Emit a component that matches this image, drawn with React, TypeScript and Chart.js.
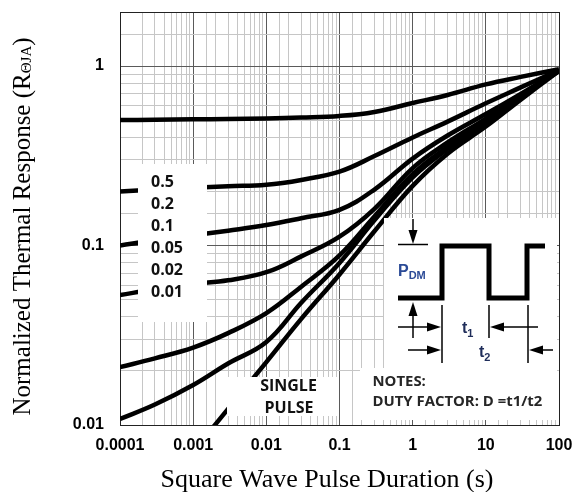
import React, { useEffect, useRef } from 'react';
import { Chart, registerables } from 'chart.js';

Chart.register(...registerables);

// ---- data ----
const durations = [0.0001, 0.0003, 0.001, 0.003, 0.01, 0.03, 0.1, 0.3, 1, 3, 10, 30, 100];
const duty05 = [0.5, 0.502, 0.505, 0.507, 0.51, 0.516, 0.527, 0.555, 0.622, 0.69, 0.79, 0.87, 0.96];
const duty02 = [0.2, 0.205, 0.21, 0.214, 0.218, 0.232, 0.258, 0.315, 0.4, 0.49, 0.62, 0.76, 0.95];
const duty01 = [0.1, 0.107, 0.114, 0.121, 0.13, 0.142, 0.158, 0.205, 0.305, 0.41, 0.54, 0.7, 0.94];
const duty005 = [0.053, 0.057, 0.061, 0.064, 0.071, 0.087, 0.112, 0.16, 0.27, 0.375, 0.51, 0.69, 0.94];
const duty002 = [0.021, 0.0235, 0.027, 0.0325, 0.042, 0.059, 0.088, 0.145, 0.25, 0.355, 0.5, 0.68, 0.94];
const duty001 = [0.0108, 0.013, 0.0167, 0.022, 0.029, 0.048, 0.08, 0.138, 0.24, 0.345, 0.48, 0.67, 0.94];
const singleDurations = [0.0015, 0.003, 0.01, 0.03, 0.1, 0.3, 1, 3, 10, 30, 100];
const singlePulse = [0.0087, 0.0123, 0.0224, 0.039, 0.069, 0.12, 0.215, 0.325, 0.46, 0.65, 0.94];

const dutyLabels = ['0.5', '0.2', '0.1', '0.05', '0.02', '0.01'];
const xTickValues = [0.0001, 0.001, 0.01, 0.1, 1, 10, 100];
const xTickLabels = ['0.0001', '0.001', '0.01', '0.1', '1', '10', '100'];
const yTickValues = [0.01, 0.1, 1];
const yTickLabels = ['0.01', '0.1', '1'];

const xTitle = 'Square Wave Pulse Duration (s)';
const yTitleMain = 'Normalized Thermal Response (R';
const yTitleSub = 'ΘJA';
const yTitleEnd = ')';

const SANS = '"Liberation Sans", Arial, sans-serif';
const SERIF = '"Liberation Serif", "Times New Roman", serif';
const LBL = '"Open Sans", "Liberation Sans", sans-serif';

const isDecade = (v: number) => {
  if (!(v > 0)) return false;
  const l = Math.log10(v);
  return Math.abs(l - Math.round(l)) < 1e-6;
};

function arrow(ctx: CanvasRenderingContext2D, x1: number, y1: number, x2: number, y2: number) {
  const ang = Math.atan2(y2 - y1, x2 - x1);
  const len = 14, hw = 4.5;
  const bx = x2 - len * Math.cos(ang), by = y2 - len * Math.sin(ang);
  ctx.beginPath();
  ctx.moveTo(x1, y1);
  ctx.lineTo(bx, by);
  ctx.stroke();
  ctx.beginPath();
  ctx.moveTo(x2, y2);
  ctx.lineTo(bx + hw * Math.sin(ang), by - hw * Math.cos(ang));
  ctx.lineTo(bx - hw * Math.sin(ang), by + hw * Math.cos(ang));
  ctx.closePath();
  ctx.fill();
}

function line(ctx: CanvasRenderingContext2D, x1: number, y1: number, x2: number, y2: number) {
  ctx.beginPath();
  ctx.moveTo(x1, y1);
  ctx.lineTo(x2, y2);
  ctx.stroke();
}

const overlayPlugin = {
  id: 'overlay',
  beforeDatasetsDraw(chart: any) {
    const { ctx, chartArea: a } = chart;
    ctx.save();
    ctx.strokeStyle = '#222';
    ctx.lineWidth = 1;
    ctx.strokeRect(Math.round(a.left) + 0.5, Math.round(a.top) + 0.5, Math.round(a.right - a.left), Math.round(a.bottom - a.top));
    ctx.restore();
  },
  afterDraw(chart: any) {
    const { ctx } = chart;
    const xs = chart.scales.x;
    const ys = chart.scales.y;
    ctx.save();

    // tick labels
    ctx.fillStyle = '#000';
    ctx.font = `bold 16px ${SANS}`;
    ctx.textAlign = 'center';
    ctx.textBaseline = 'middle';
    xTickValues.forEach((v, i) => {
      ctx.fillText(xTickLabels[i], xs.getPixelForValue(v), 446);
    });
    ctx.textAlign = 'right';
    yTickValues.forEach((v, i) => {
      ctx.fillText(yTickLabels[i], 104, ys.getPixelForValue(v));
    });

    // axis titles
    ctx.font = `26px ${SERIF}`;
    ctx.textAlign = 'center';
    ctx.textBaseline = 'alphabetic';
    ctx.fillText(xTitle, 327, 487);

    ctx.save();
    ctx.translate(30, 226.5);
    ctx.rotate(-Math.PI / 2);
    ctx.textAlign = 'left';
    const mf = `25px ${SERIF}`;
    const sf = `15px ${SERIF}`;
    ctx.font = mf;
    const w1 = ctx.measureText(yTitleMain).width;
    const w3 = ctx.measureText(yTitleEnd).width;
    ctx.font = sf;
    const w2 = ctx.measureText(yTitleSub).width;
    let sx = -(w1 + w2 + w3) / 2;
    ctx.font = mf;
    ctx.fillText(yTitleMain, sx, 0);
    sx += w1;
    ctx.font = sf;
    ctx.fillText(yTitleSub, sx, 1);
    sx += w2;
    ctx.font = mf;
    ctx.fillText(yTitleEnd, sx, 0);
    ctx.restore();

    // white boxes
    ctx.fillStyle = '#fff';
    ctx.fillRect(138, 164, 69, 158); // duty legend
    ctx.fillRect(227, 377, 111, 39); // single pulse
    ctx.fillRect(384, 218, 173, 150); // inset diagram
    ctx.fillRect(360, 368, 197, 52); // notes

    // duty factor labels
    ctx.fillStyle = '#111';
    ctx.font = `bold 16px ${LBL}`;
    ctx.textAlign = 'left';
    ctx.textBaseline = 'middle';
    const ly = [182, 204, 226.5, 248.5, 270.5, 292.5];
    dutyLabels.forEach((t, i) => ctx.fillText(t, 151, ly[i]));

    // single pulse
    ctx.textAlign = 'center';
    ctx.fillText('SINGLE', 288.5, 386);
    ctx.fillText('PULSE', 289, 408);

    // notes
    ctx.textAlign = 'left';
    ctx.fillStyle = '#262626';
    let nf = 14;
    ctx.font = `bold ${nf}px ${LBL}`;
    const nw = ctx.measureText('DUTY FACTOR: D =t1/t2').width;
    nf = Math.min(15, (nf * 170) / nw);
    ctx.font = `bold ${nf}px ${LBL}`;
    ctx.fillText('NOTES:', 372.5, 382);
    ctx.fillText('DUTY FACTOR: D =t1/t2', 372.5, 402);

    // pulse waveform
    ctx.strokeStyle = '#000';
    ctx.fillStyle = '#000';
    ctx.lineWidth = 5;
    ctx.lineJoin = 'miter';
    ctx.beginPath();
    ctx.moveTo(398, 298);
    ctx.lineTo(442, 298);
    ctx.lineTo(442, 246);
    ctx.lineTo(489, 246);
    ctx.lineTo(489, 298);
    ctx.lineTo(527, 298);
    ctx.lineTo(527, 246);
    ctx.lineTo(545, 246);
    ctx.stroke();

    // annotation arrows
    ctx.lineWidth = 1.5;
    arrow(ctx, 413, 219, 413, 244);
    line(ctx, 398, 244.5, 428, 244.5);
    arrow(ctx, 413, 338, 413, 302);
    arrow(ctx, 398, 327, 441, 327);
    arrow(ctx, 538, 327, 490, 327);
    arrow(ctx, 408, 350, 441, 350);
    arrow(ctx, 553, 350, 529, 350);
    line(ctx, 442, 305, 442, 363);
    line(ctx, 489, 305, 489, 338);
    line(ctx, 528, 305, 528, 363);

    // P_DM label
    ctx.textAlign = 'left';
    ctx.textBaseline = 'alphabetic';
    ctx.fillStyle = '#2b4a96';
    ctx.font = `bold 16px ${SANS}`;
    ctx.fillText('P', 398, 276);
    const pw = ctx.measureText('P').width;
    ctx.font = `bold 11px ${SANS}`;
    ctx.fillText('DM', 398 + pw, 279);

    // t1, t2 labels
    ctx.fillStyle = '#1f2d5a';
    ctx.font = `bold 16px ${SANS}`;
    ctx.fillText('t', 462, 333);
    ctx.fillText('t', 479, 357);
    const tw = ctx.measureText('t').width;
    ctx.font = `bold 11px ${SANS}`;
    ctx.fillText('1', 462 + tw, 337);
    ctx.fillText('2', 479 + tw, 361);

    ctx.restore();
  },
};

export default function App() {
  const ref = useRef<HTMLCanvasElement | null>(null);

  useEffect(() => {
    document.body.style.margin = '0';
    const canvas = ref.current;
    if (!canvas) return;

    const mk = (xsArr: number[], ysArr: number[]) => xsArr.map((x, i) => ({ x, y: ysArr[i] }));
    const series = [duty05, duty02, duty01, duty005, duty002, duty001];
    const datasets: any[] = series.map((s, i) => ({
      label: 'D=' + dutyLabels[i],
      data: mk(durations, s),
    }));
    datasets.push({ label: 'Single pulse', data: mk(singleDurations, singlePulse) });
    datasets.forEach((d) => {
      d.borderColor = '#000';
      d.borderWidth = 4.5;
      d.pointRadius = 0;
      d.fill = false;
      d.tension = 0.4;
      d.cubicInterpolationMode = 'default';
      d.clip = 0;
      d.borderCapStyle = 'butt';
    });

    const gridColor = (c: any) => (isDecade(c.tick?.value) ? '#5a5a5a' : '#c6c6c6');

    const chart = new Chart(canvas, {
      type: 'line',
      data: { datasets },
      options: {
        animation: false,
        responsive: false,
        maintainAspectRatio: false,
        layout: { padding: { left: 0, top: 12, right: 17, bottom: 0 } },
        plugins: { legend: { display: false }, tooltip: { enabled: false } },
        scales: {
          x: {
            type: 'logarithmic',
            min: 0.0001,
            max: 100,
            grid: { color: gridColor, drawTicks: false, lineWidth: 1 },
            border: { display: false },
            ticks: { display: false, autoSkip: false },
            afterFit: (s: any) => {
              s.height = 67;
            },
          },
          y: {
            type: 'logarithmic',
            min: 0.01,
            max: 2,
            grid: { color: gridColor, drawTicks: false, lineWidth: 1 },
            border: { display: false },
            ticks: { display: false, autoSkip: false },
            afterFit: (s: any) => {
              s.width = 120;
            },
          },
        },
      } as any,
      plugins: [overlayPlugin],
    });

    return () => chart.destroy();
  }, []);

  return (
    <div style={{ width: 576, height: 492, background: '#fff' }}>
      <canvas ref={ref} width={576} height={492} style={{ display: 'block' }} />
    </div>
  );
}
